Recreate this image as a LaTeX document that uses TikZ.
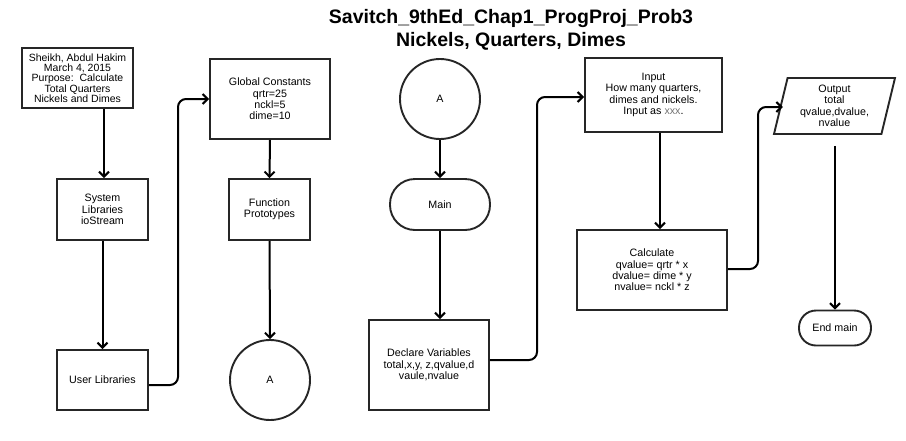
\documentclass[tikz,border=0pt]{standalone}
\usepackage{fontspec}
\setmainfont{Liberation Sans}
\usetikzlibrary{arrows.meta,shapes.geometric}
\begin{document}
\begin{tikzpicture}[x=1pt,y=-1pt,
  every node/.style={font=\fontsize{10.7}{11.4}\selectfont, align=center, inner sep=0pt},
  box/.style={draw=black!85, line width=1.9pt, rectangle},
  term/.style={draw=black!85, line width=1.9pt, rectangle, rounded corners=17pt},
  conn/.style={draw=black!85, line width=1.9pt, circle, minimum size=80pt},
  flow/.style={line width=2pt, -{Straight Barb[length=5pt,width=10pt]}},
  elbow/.style={flow, rounded corners=8pt}]
\path[use as bounding box] (0,0) rectangle (906,440);

\node[font=\bfseries\fontsize{19.5}{23}\selectfont] (title) at (511,30)
  {Savitch\_9thEd\_Chap1\_ProgProj\_Prob3\\Nickels, Quarters, Dimes};

\node[box, minimum width=111pt, minimum height=60pt, font=\fontsize{10.5}{10.3}\selectfont] (sheikh) at (77.5,78)
  {Sheikh, Abdul Hakim\\March 4, 2015\\Purpose:\ \ Calculate\\Total Quarters\\Nickels and Dimes};
\node[box, minimum width=91pt, minimum height=61pt] (syslib) at (102.5,209.5) {System\\Libraries\\ioStream};
\node[box, minimum width=91pt, minimum height=60pt] (userlib) at (102.5,380) {User Libraries};

\node[box, minimum width=120pt, minimum height=80pt] (glob) at (270,99) {Global Constants\\qrtr=25\\nckl=5\\dime=10};
\node[box, minimum width=81pt, minimum height=61pt] (func) at (269.5,209.5) {Function\\Prototypes};
\node[conn] (a2) at (270,380) {A};

\node[conn] (a1) at (440,99) {A};
\node[term, rounded corners=25pt, minimum width=100pt, minimum height=51pt] (main) at (440,204.5) {Main};
\node[box, minimum width=120pt, minimum height=90pt] (decl) at (429,365) {Declare Variables\\total,x,y, z,qvalue,d\\vaule,nvalue};

\node[box, minimum width=137pt, minimum height=74pt] (input) at (653.5,95)
  {Input\\How many quarters,\\dimes and nickels.\\Input as \textcolor{black!55}{xxx}.};
\node[box, minimum width=150pt, minimum height=80pt] (calc) at (652,270)
  {Calculate\\qvalue= qrtr * x\\dvalue= dime * y\\nvalue= nckl * z};

\node[draw=black!85, line width=1.9pt, trapezium, trapezium left angle=72, trapezium right angle=108,
  trapezium stretches body, minimum width=121pt, minimum height=56pt] (out) at (834.5,106)
  {Output\\total\\qvalue,dvalue,\\nvalue};
\node[term, minimum width=72pt, minimum height=35pt] (endm) at (835,328) {End main};

\draw[flow] (sheikh.south -| 104,0) -- (syslib.north -| 104,0);
\draw[flow] (syslib.south) -- (userlib.north);
\draw[elbow] (userlib.east |- 0,385) -- (178,385) -- (178,99) -- (glob.west);
\draw[flow] (glob.south) -- (func.north);
\draw[flow] (func.south) -- (a2.north);
\draw[flow] (a1.south) -- (main.north);
\draw[flow] (main.south) -- (main.south |- decl.north);
\draw[elbow] (decl.east |- 0,360) -- (537,360) -- (537,97) -- (input.west |- 0,97);
\draw[flow] (input.south -| 660,0) -- (calc.north -| 660,0);
\draw[elbow] (calc.east |- 0,269) -- (758,269) -- (758,107) -- ([xshift=3pt]out.west |- 0,107);
\draw[flow] ([yshift=-11pt]out.south -| endm.north) -- (endm.north);
\end{tikzpicture}
\end{document}
